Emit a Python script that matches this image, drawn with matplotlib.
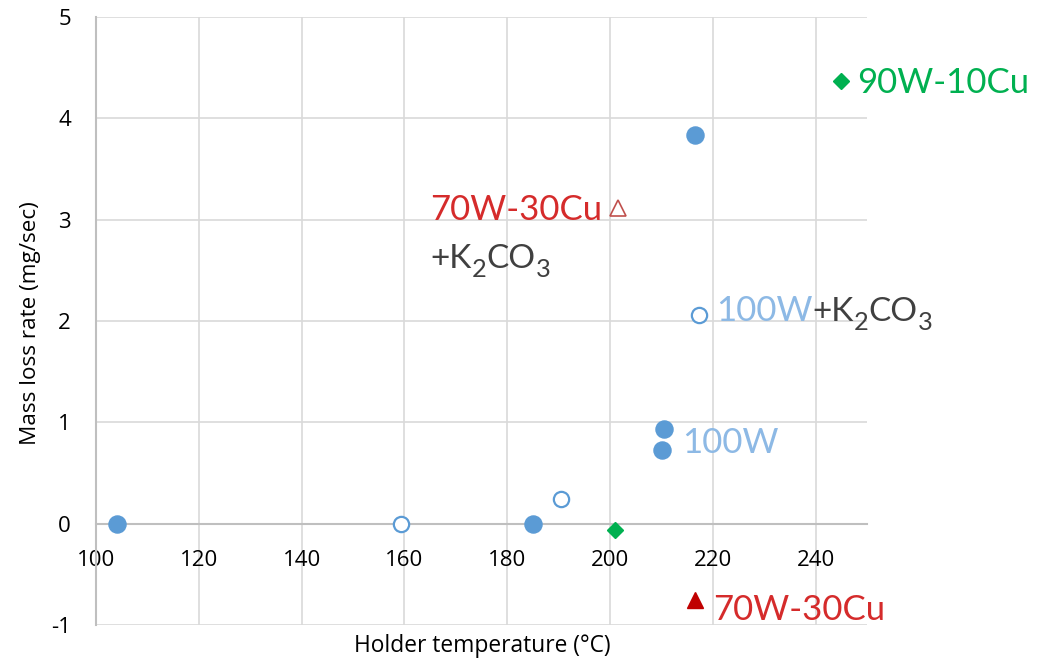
import matplotlib
matplotlib.use("Agg")
import matplotlib.pyplot as plt

# ---- data ----
w100_x = [104, 185, 210.2, 210.6, 216.6]
w100_y = [0, 0, 0.73, 0.93, 3.84]
w100k_x = [159.3, 190.4, 217.3]
w100k_y = [0, 0.24, 2.06]
w90_x = [200.9, 245]
w90_y = [-0.06, 4.37]
w70_x = [216.5]
w70_y = [-0.75]
w70k_x = [201.6]
w70k_y = [3.12]

x_ticks = [100, 120, 140, 160, 180, 200, 220, 240]
y_ticks = [-1, 0, 1, 2, 3, 4, 5]
x_label = "Holder temperature (°C)"
y_label = "Mass loss rate (mg/sec)"

plt.rcParams['axes.unicode_minus'] = False

W, H = 1049, 660
fig = plt.figure(figsize=(W / 100, H / 100), dpi=100)
ax = fig.add_axes([96 / W, 1 - 625 / H, (867 - 96) / W, (625 - 17) / H])

ax.set_xlim(100, 250)
ax.set_ylim(-1, 5)
ax.set_xticks(x_ticks)
ax.set_yticks(y_ticks)
ax.grid(True, color='#D9D9D9', lw=1.2)
ax.set_axisbelow(True)
for s in ['top', 'right']:
    ax.spines[s].set_visible(False)
ax.spines['left'].set_color('#BFBFBF')
ax.spines['left'].set_linewidth(1.5)
ax.spines['bottom'].set_position(('data', 0))
ax.spines['bottom'].set_color('#BFBFBF')
ax.spines['bottom'].set_linewidth(1.5)
ax.spines['bottom'].set_bounds(100, 250)
ax.tick_params(length=0, labelsize=16, colors='black')
ax.tick_params(axis='x', pad=19)
ax.tick_params(axis='y', pad=18)
for lab in ax.get_xticklabels() + ax.get_yticklabels():
    lab.set_fontfamily('Open Sans')

blue = '#5B9BD5'
ax.plot(w100_x, w100_y, 'o', ms=12.3, color=blue, mec=blue, zorder=5, clip_on=False)
ax.plot(w100k_x, w100k_y, 'o', ms=11, mfc='white', mec=blue, mew=1.6, zorder=5, clip_on=False)
ax.plot(w90_x, w90_y, 'D', ms=8, color='#00B050', zorder=5, clip_on=False)
ax.plot(w70_x, w70_y, '^', ms=11, color='#C00000', zorder=5, clip_on=False)
ax.plot(w70k_x, w70k_y, '^', ms=11, mfc='white', mec='#C0504D', mew=1.2, zorder=5, clip_on=False)

FS = 25
CFS = 24
lbl = dict(family='Lato', fontsize=FS, va='baseline', ha='left')
lblue = '#8DB9E5'
red = '#D52B2B'
dark = '#404040'


def chem(prev, y, parts, color):
    """Append text pieces after artist `prev`; parts = [(str, is_sub), ...]."""
    for s, sub in parts:
        fs = CFS * 0.76 if sub else CFS
        dy = -6.5 if sub else 0
        prev = ax.annotate(s, xy=(1, y), xycoords=(prev, 'data'),
                           xytext=(0, dy), textcoords='offset points',
                           family='Lato', fontsize=fs, va='baseline',
                           ha='left', color=color)
    return prev


K2CO3 = [('+K', False), ('2', True), ('CO', False), ('3', True)]

ax.text(248.0, 4.25, '90W-10Cu', color='#00B050', **lbl)
ax.text(214.0, 0.70, '100W', color=lblue, **lbl)
ax.text(220.0, -0.95, '70W-30Cu', color=red, **lbl)
ax.text(165.0, 3.00, '70W-30Cu', color=red, **lbl)
t0 = ax.text(165.0, 2.52, '', color=dark, **lbl)
chem(t0, 2.52, K2CO3, dark)
t1 = ax.text(220.6, 2.00, '100W', color=lblue, **lbl)
chem(t1, 2.00, K2CO3, dark)

fig.text(482 / W, 1 - 646 / H, x_label, ha='center', va='center', fontsize=16.4,
         family='Open Sans')
fig.text(31 / W, 1 - 323 / H, y_label, ha='center', va='center', fontsize=16.2,
         rotation=90, family='Open Sans')

fig.savefig('out.png', dpi=100)
